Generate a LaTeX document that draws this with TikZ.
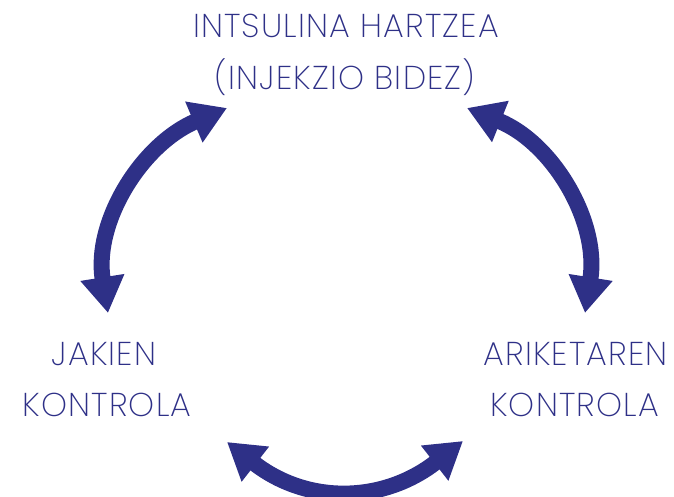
\documentclass[tikz,border=0pt]{standalone}
\usepackage{fontspec}
\setmainfont{Poppins ExtraLight}[LetterSpace=3.5]
\usetikzlibrary{arrows.meta}
\definecolor{navy}{HTML}{2E3087}
\begin{document}
\begin{tikzpicture}[x=1pt,y=1pt,
  lbl/.style={text=navy, font=\fontsize{33}{40}\selectfont, anchor=base, inner sep=0pt},
  dbl/.style={draw=navy, line width=16pt,
    {Triangle[length=36pt,width=42pt]}-{Triangle[length=36pt,width=42pt]}}]
\useasboundingbox (0,0) rectangle (674,496);
% labels
\node[lbl] (top1) at (346,458.7) {INTSULINA HARTZEA};
\node[lbl] (top2) at (345,406.5) {(INJEKZIO BIDEZ)};
\node[lbl] (left1) at (104,131) {JAKIEN};
\node[lbl] (left2) at (107,80) {KONTROLA};
\node[lbl] (right1) at (575.5,131) {ARIKETAREN};
\node[lbl] (right2) at (574.5,80) {KONTROLA};
% arrow ends
\coordinate (a1) at (108,183);
\coordinate (a2) at (227,388);
\coordinate (b1) at (585,183);
\coordinate (b2) at (467,388);
\coordinate (c1) at (227,54);
\coordinate (c2) at (463,55);
% arrows
\draw[dbl] (a1) to[out=99,in=203] (a2);
\draw[dbl] (b1) to[out=81,in=-22] (b2);
\draw[dbl] (c1) to[out=-38,in=218,looseness=1.1] (c2);
\end{tikzpicture}
\end{document}
